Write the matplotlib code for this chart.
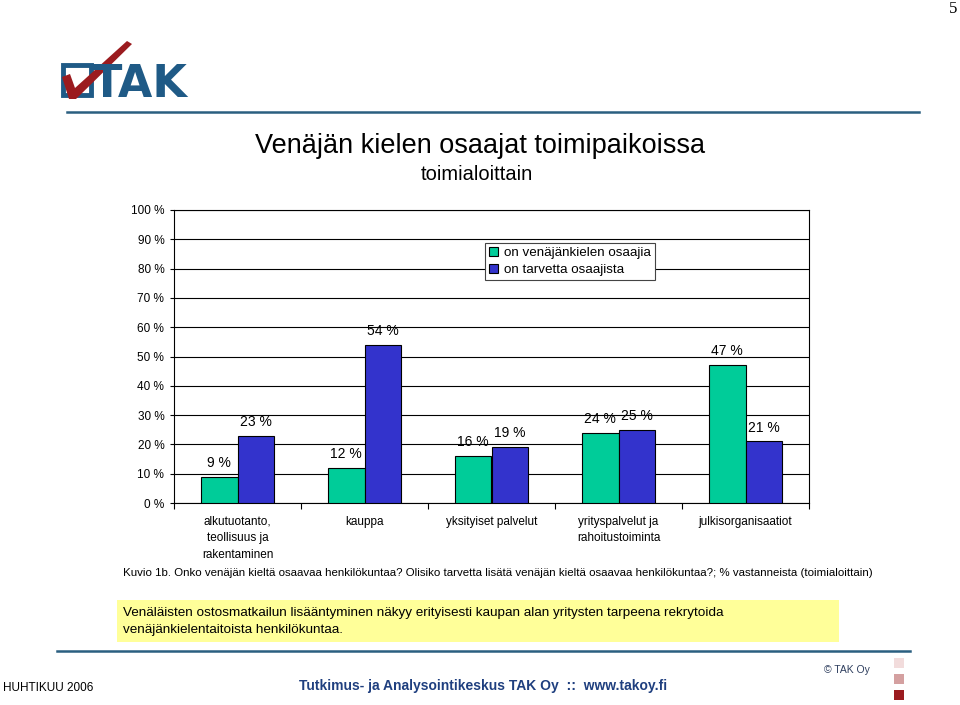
import matplotlib
matplotlib.use("Agg")
import matplotlib.pyplot as plt
from matplotlib.patches import Rectangle, Polygon
from matplotlib.lines import Line2D
import numpy as np

plt.rcParams['font.family'] = ['Liberation Sans', 'DejaVu Sans']

categories = ["alkutuotanto,\nteollisuus ja\nrakentaminen", "kauppa", "yksityiset palvelut",
              "yrityspalvelut ja\nrahoitustoiminta", "julkisorganisaatiot"]
has_speakers = [9, 12, 16, 24, 47]
needs_speakers = [23, 54, 19, 25, 21]
series_names = ["on venäjänkielen osaajia", "on tarvetta osaajista"]
yticks = list(range(0, 101, 10))

W, H = 960, 705
fig = plt.figure(figsize=(9.6, 7.05), dpi=100)

def fx(x):
    return x / W

def fy(y):
    return 1 - y / H

ax = fig.add_axes([fx(174), fy(503), (809 - 174) / W, (503 - 210) / H])
x = np.arange(len(categories))
bw = 0.29
b1 = ax.bar(x - bw / 2, has_speakers, bw, color="#00CC99", edgecolor="black", linewidth=0.8,
            label=series_names[0], zorder=3)
b2 = ax.bar(x + bw / 2, needs_speakers, bw, color="#3333CC", edgecolor="black", linewidth=0.8,
            label=series_names[1], zorder=3)
for bars, vals in ((b1, has_speakers), (b2, needs_speakers)):
    for r, v in zip(bars, vals):
        ax.annotate(f"{v} %", (r.get_x() + r.get_width() / 2, v), xytext=(0, 10),
                    textcoords="offset points", ha="center", va="center", fontsize=10)

ax.set_xlim(-0.5, len(categories) - 0.5)
ax.set_ylim(0, 100)
ax.set_yticks(yticks)
ax.set_yticklabels([f"{t} %" for t in yticks], fontsize=8.5)
ax.yaxis.grid(True, color="black", linewidth=0.8, zorder=0)
ax.set_axisbelow(True)
ax.set_xticks(x)
ax.set_xticklabels(categories, fontsize=8.5, linespacing=1.55, va="top")
ax.tick_params(axis="x", which="major", length=0, pad=9)
ax.set_xticks(np.arange(-0.5, len(categories), 1), minor=True)
ax.tick_params(axis="x", which="minor", length=4, width=0.8, direction="out")
ax.tick_params(axis="y", length=3, width=0.8, direction="out", pad=4)
for s in ax.spines.values():
    s.set_linewidth(0.8)
    s.set_color("black")

leg = fig.legend(handles=[b1, b2], loc="upper left", bbox_to_anchor=(fx(485), fy(243)),
                 borderaxespad=0, fontsize=9.6, fancybox=False, edgecolor="#444444",
                 handlelength=0.7, handleheight=0.7, handletextpad=0.4, borderpad=0.3,
                 labelspacing=0.35, framealpha=1)
leg.get_frame().set_linewidth(0.8)

# Titles
fig.text(fx(480), fy(146), "Venäjän kielen osaajat toimipaikoissa", fontsize=19.5,
         ha="center", va="center")
fig.text(fx(477), fy(175), "toimialoittain", fontsize=14.5, ha="center", va="center")

# Caption
fig.text(fx(123), fy(573), "Kuvio 1b. Onko venäjän kieltä osaavaa henkilökuntaa? Olisiko tarvetta lisätä "
         "venäjän kieltä osaavaa henkilökuntaa?; % vastanneista (toimialoittain)",
         fontsize=8.25, ha="left", va="center")

# Yellow box
fig.patches.append(Rectangle((fx(117), fy(642)), (839 - 117) / W, (642 - 600) / H,
                             transform=fig.transFigure, facecolor="#FFFF99", edgecolor="none",
                             zorder=0))
fig.text(fx(123), fy(613), "Venäläisten ostosmatkailun lisääntyminen näkyy erityisesti kaupan "
         "alan yritysten tarpeena rekrytoida", fontsize=9.7, ha="left", va="center")
fig.text(fx(123), fy(630), "venäjänkielentaitoista henkilökuntaa.", fontsize=9.7,
         ha="left", va="center")

# Header lines
fig.add_artist(Line2D([fx(67), fx(919)], [fy(112), fy(112)], color="#2A5F80", linewidth=1.8))
fig.add_artist(Line2D([fx(57), fx(910)], [fy(651), fy(651)], color="#2A5F80", linewidth=1.8))

# Logo
fig.patches.append(Rectangle((fx(63), fy(95)), 28 / W, 30 / H, transform=fig.transFigure,
                             facecolor="white", edgecolor="#1F5A86", linewidth=3.5))
fig.text(fx(92), fy(97), "TAK", fontsize=32, fontweight="bold", family="DejaVu Sans",
         color="#1F5A86", ha="left", va="baseline")
check = [(62, 77), (70, 74), (75, 88), (127, 41), (132, 44), (76, 99), (69, 99)]
fig.patches.append(Polygon([(fx(a), fy(b)) for a, b in check], closed=True,
                           transform=fig.transFigure, facecolor="#9B1B1F", edgecolor="none"))

# Page number
fig.text(fx(957), fy(9), "5", fontsize=12, family="Liberation Serif", ha="right", va="center")

# Footer
fig.text(fx(3), fy(688), "HUHTIKUU 2006", fontsize=8.5, ha="left", va="center")
fig.text(fx(483), fy(686), "Tutkimus- ja Analysointikeskus TAK Oy  ::  www.takoy.fi",
         fontsize=10, fontweight="bold", color="#1F3F7F", ha="center", va="center")
fig.text(fx(847), fy(670), "© TAK Oy", fontsize=7.5, color="#2F3F5F", ha="center", va="center")
for y0, c in ((658, "#F2DCDC"), (674, "#D4A0A0"), (690, "#9B1B1F")):
    fig.patches.append(Rectangle((fx(894), fy(y0 + 10)), 10 / W, 10 / H,
                                 transform=fig.transFigure, facecolor=c, edgecolor="none"))

fig.savefig("out.png", dpi=100)
